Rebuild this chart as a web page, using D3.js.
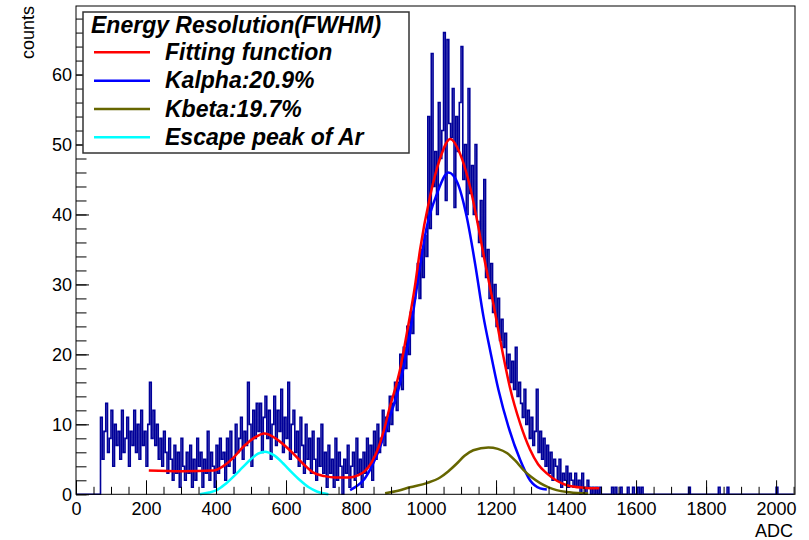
<!DOCTYPE html>
<html>
<head>
<meta charset="utf-8">
<script src="https://cdn.jsdelivr.net/npm/d3@7"></script>
<style>
  body { margin: 0; background: #fff; }
  text { font-family: "Liberation Sans", Arial, sans-serif; }
</style>
</head>
<body>
<script>
// histogram: 5-ADC bins starting at ADC 70
var binStart = 70;
var binWidth = 5;
var histCounts = [
  11, 5, 9, 13, 6, 8, 12, 4, 10, 7,
  9, 5, 12, 6, 8, 11, 4, 9, 7, 12,
  6, 10, 5, 12, 7, 9, 4, 10, 16, 8,
  12, 7, 10, 5, 8, 4, 9, 6, 3, 8,
  5, 2, 7, 3, 6, 1, 8, 4, 2, 6,
  3, 7, 1, 5, 2, 8, 4, 6, 1, 5,
  3, 9, 2, 6, 4, 1, 7, 3, 8, 5,
  6, 2, 8, 4, 9, 5, 3, 10, 6, 8,
  11, 5, 9, 7, 16, 10, 4, 12, 8, 13,
  9, 13, 6, 11, 14, 8, 12, 5, 10, 14,
  7, 12, 9, 15, 6, 11, 8, 16, 5, 10,
  12, 6, 9, 4, 11, 7, 3, 10, 5, 8,
  3, 9, 5, 2, 8, 4, 10, 3, 6, 1,
  7, 3, 5, 1, 8, 2, 6, 4, 0, 5,
  3, 7, 1, 4, 6, 2, 8, 3, 5, 1,
  6, 3, 8, 4, 7, 2, 9, 5, 10, 6,
  8, 12, 7, 11, 9, 14, 10, 13, 16, 12,
  16, 20, 15, 21, 18, 24, 20, 26, 23, 28,
  30, 33, 28, 35, 31, 37, 34, 54, 38, 63,
  44, 49, 40, 56, 48, 52, 66, 42, 65, 53,
  51, 58, 41, 54, 49, 56, 64, 45, 50, 40,
  58, 43, 47, 40, 50, 39, 36, 42, 34, 45,
  31, 35, 28, 33, 26, 30, 24, 28, 22, 25,
  21, 23, 18, 20, 16, 19, 15, 21, 14, 16,
  13, 11, 15, 10, 12, 8, 11, 7, 9, 15,
  6, 9, 5, 8, 4, 7, 3, 6, 2, 5,
  4, 2, 5, 1, 3, 2, 4, 1, 3, 2,
  1, 3, 1, 2, 0, 3, 1, 0, 2, 1,
  0, 1, 0, 1, 0, 1
];
// isolated entries in the tail
var tailAdc = [1530, 1540, 1555, 1575, 1590, 1605, 1615, 1750, 1835, 1860, 2000];
var tailCounts = [1, 1, 1, 1, 1, 1, 1, 1, 1, 1, 1];

// fitted curves as [ADC, counts]
var fitTotal = [[208,3.4],[300,3.3],[392,3.4],[420,4.0],[449,5.2],[480,6.9],[510,8.1],[538,8.7],
  [570,8.0],[600,6.8],[621,5.8],[650,4.3],[678,3.1],[710,2.6],[740,2.4],[780,2.4],[805,2.7],
  [825,3.3],[845,4.6],[865,6.8],[880,9.2],[895,12.2],[910,14.8],[925,17.7],[945,23],[969,30],
  [983,35],[1011,42.5],[1040,48],[1069,50.8],[1097,48.7],[1126,43.9],[1154,37.0],[1164,34.3],
  [1192,27.3],[1221,19.7],[1240,15.2],[1269,10.1],[1297,6.4],[1320,4.3],[1345,3.0],[1375,1.9],
  [1402,1.3],[1449,0.95],[1495,0.85]];
var fitKalpha = [[783,0.6],[800,1.1],[821,2.0],[845,4.0],[869,6.8],[897,11.1],[926,15.9],[954,23],
  [978,31],[1002,38.2],[1030,42.8],[1064,46],[1090,44.5],[1116,39.7],[1140,33],[1164,25.4],
  [1183,20.6],[1207,14.9],[1235,9.7],[1269,4.9],[1297,2.0],[1326,0.85],[1345,0.7]];
var fitKbeta = [[883,0.15],[920,0.5],[954,1.0],[1002,1.6],[1040,2.4],[1064,3.3],[1088,4.4],
  [1110,5.5],[1135,6.3],[1178,6.7],[1205,6.5],[1231,5.9],[1255,4.8],[1278,3.5],[1300,2.5],
  [1326,1.6],[1350,1.0],[1373,0.6],[1410,0.3],[1463,0.1]];
var fitEscape = [[354,0],[380,0.25],[402,0.6],[425,1.4],[449,2.5],[475,3.8],[497,4.9],[520,5.8],
  [540,6.1],[565,5.6],[592,4.4],[615,3.2],[640,2.0],[665,1.0],[688,0.4],[721,0]];

var legendHeader = "Energy Resolution(FWHM)";
var legendLabels = ["Fitting function", "Kalpha:20.9%", "Kbeta:19.7%", "Escape peak of Ar"];
var legendColors = ["#ff0000", "#0000ff", "#666600", "#00ffff"];

var W = 809, H = 540;
var frame = {left: 76, top: 6, right: 795, bottom: 494.3};

var svg = d3.select("body").append("svg")
    .attr("width", W)
    .attr("height", H);

var x = d3.scaleLinear().domain([0, 2054]).range([frame.left, frame.right]);
var y = d3.scaleLinear().domain([0, 69.8]).range([frame.bottom, frame.top]);

// build all bins (zeros elsewhere)
var nAll = Math.ceil(2050 / binWidth);
var allCounts = new Array(nAll).fill(0);
histCounts.forEach(function(c, i) {
    allCounts[(binStart / binWidth) + i] = c;
});
tailAdc.forEach(function(a, i) {
    allCounts[Math.floor(a / binWidth)] = tailCounts[i];
});
var steps = [];
allCounts.forEach(function(c, i) {
    steps.push([i * binWidth, c]);
    steps.push([(i + 1) * binWidth, c]);
});

var line = d3.line()
    .x(d => x(d[0]))
    .y(d => y(d[1]));

svg.append("path")
    .datum(steps)
    .attr("fill", "none")
    .attr("stroke", "#000099")
    .attr("stroke-width", 1.6)
    .attr("d", line);

var smooth = d3.line()
    .x(d => x(d[0]))
    .y(d => y(d[1]))
    .curve(d3.curveMonotoneX);

[[fitKalpha, legendColors[1]], [fitKbeta, legendColors[2]],
 [fitEscape, legendColors[3]], [fitTotal, legendColors[0]]].forEach(function(f) {
    svg.append("path")
        .datum(f[0])
        .attr("fill", "none")
        .attr("stroke", f[1])
        .attr("stroke-width", 2.5)
        .attr("d", smooth);
});

// axes, ticks drawn inside the frame
var xMajor = d3.axisBottom(x)
    .tickValues(d3.range(0, 2001, 200))
    .tickFormat(d3.format("d"))
    .tickSizeInner(-14).tickSizeOuter(0).tickPadding(8);
var xMinor = d3.axisBottom(x)
    .tickValues(d3.range(0, 2051, 50))
    .tickSizeInner(-7.5).tickSizeOuter(0).tickFormat("");
var yMajor = d3.axisLeft(y)
    .tickValues(d3.range(0, 61, 10))
    .tickFormat(d3.format("d"))
    .tickSizeInner(-13).tickSizeOuter(0).tickPadding(4);
var yMinor = d3.axisLeft(y)
    .tickValues(d3.range(0, 69, 2))
    .tickSizeInner(-10.5).tickSizeOuter(0).tickFormat("");

function styleAxis(g) {
    g.select(".domain").remove();
    g.selectAll("line").attr("stroke", "#000");
    g.selectAll("text")
        .attr("fill", "#000")
        .style("font-family", "'Liberation Sans', Arial, sans-serif")
        .style("font-size", "18px");
}

svg.append("g").attr("transform", "translate(0," + frame.bottom + ")").call(xMinor).call(styleAxis);
svg.append("g").attr("transform", "translate(0," + frame.bottom + ")").call(xMajor).call(styleAxis);
svg.append("g").attr("transform", "translate(" + frame.left + ",0)").call(yMinor).call(styleAxis);
svg.append("g").attr("transform", "translate(" + frame.left + ",0)").call(yMajor).call(styleAxis);

svg.append("rect")
    .attr("x", frame.left)
    .attr("y", frame.top)
    .attr("width", frame.right - frame.left)
    .attr("height", frame.bottom - frame.top)
    .attr("fill", "none")
    .attr("stroke", "#000")
    .attr("stroke-width", 1);

// axis titles
svg.append("text")
    .attr("transform", "translate(33.5," + frame.top + ") rotate(-90)")
    .attr("text-anchor", "end")
    .attr("font-size", "18px")
    .text("counts");

svg.append("text")
    .attr("x", 793)
    .attr("y", 537)
    .attr("text-anchor", "end")
    .attr("font-size", "18px")
    .text("ADC");

// legend
var legend = svg.append("g");
legend.append("rect")
    .attr("x", 83)
    .attr("y", 12)
    .attr("width", 326)
    .attr("height", 141)
    .attr("fill", "#fff")
    .attr("stroke", "#333")
    .attr("stroke-width", 1.5);

legend.append("text")
    .attr("x", 91)
    .attr("y", 33)
    .attr("font-size", "23px")
    .attr("font-weight", "bold")
    .attr("font-style", "italic")
    .text(legendHeader);

legendLabels.forEach(function(lab, i) {
    var ly = 52.3 + i * 28.35;
    legend.append("line")
        .attr("x1", 94)
        .attr("x2", 150)
        .attr("y1", ly)
        .attr("y2", ly)
        .attr("stroke", legendColors[i])
        .attr("stroke-width", 2.5);
    legend.append("text")
        .attr("x", 165)
        .attr("y", ly + 7.5)
        .attr("font-size", "23px")
        .attr("font-weight", "bold")
        .attr("font-style", "italic")
        .text(lab);
});
</script>
</body>
</html>
